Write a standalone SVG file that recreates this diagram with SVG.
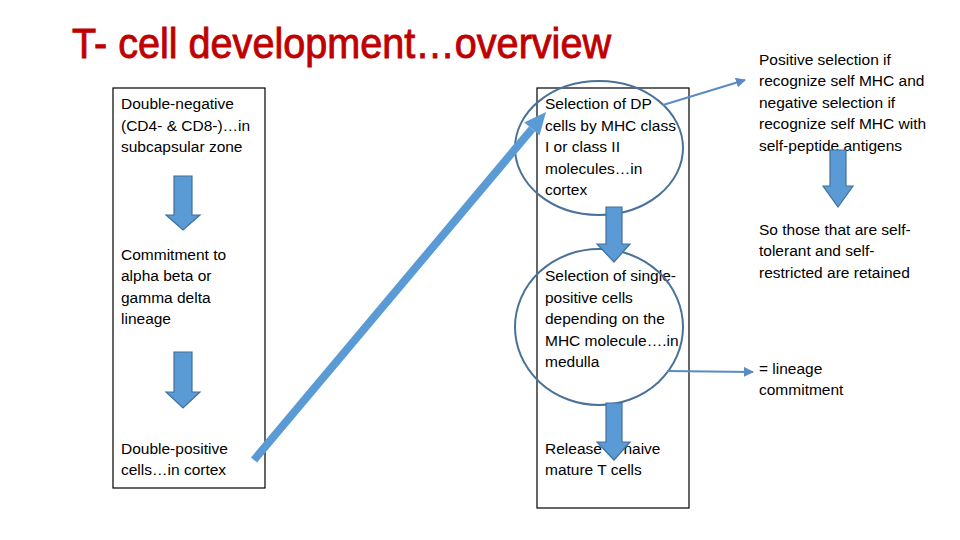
<svg xmlns="http://www.w3.org/2000/svg" width="960" height="540" viewBox="0 0 960 540">
<defs>
<style>
.t{font-family:"Liberation Sans",Arial,sans-serif;font-size:15.5px;fill:#000}
.title{font-family:"Liberation Sans",Arial,sans-serif;font-size:42px;fill:#c00000;stroke:#c00000;stroke-width:0.9}
.box{fill:none;stroke:#000;stroke-width:1.2}
.blk{fill:#5b9bd5;stroke:#41719c;stroke-width:1.2}
.ell{fill:none;stroke:#4a7298;stroke-width:2}
.thin{fill:none;stroke:#5a8ac6;stroke-width:2}
</style>
<marker id="ah" viewBox="0 0 10 10" refX="9" refY="5" markerWidth="5" markerHeight="5" orient="auto" markerUnits="strokeWidth">
<path d="M0,0 L10,5 L0,10 Z" fill="#5a8ac6"/>
</marker>
</defs>
<rect width="960" height="540" fill="#fff"/>
<text class="title" x="72" y="58" textLength="539" lengthAdjust="spacingAndGlyphs">T- cell development…overview</text>

<g id="left-column">
<rect class="box" x="113" y="88" width="152" height="400"/>
</g>
<g id="middle-column">
<rect class="box" x="537" y="88" width="152" height="420"/>
</g>

<g id="node-double-negative">
<text class="t" x="121" y="109">Double-negative</text>
<text class="t" x="121" y="130.5">(CD4- &amp; CD8-)…in</text>
<text class="t" x="121" y="152">subcapsular zone</text>
</g>
<g id="node-commitment">
<text class="t" x="121" y="259.5">Commitment to</text>
<text class="t" x="121" y="281">alpha beta or</text>
<text class="t" x="121" y="302.5">gamma delta</text>
<text class="t" x="121" y="324">lineage</text>
</g>
<g id="node-double-positive">
<text class="t" x="121" y="453.5">Double-positive</text>
<text class="t" x="121" y="475">cells…in cortex</text>
</g>
<g id="node-selection-dp">
<text class="t" x="545" y="109">Selection of DP</text>
<text class="t" x="545" y="130.5">cells by MHC class</text>
<text class="t" x="545" y="152">I or class II</text>
<text class="t" x="545" y="173.5">molecules…in</text>
<text class="t" x="545" y="195">cortex</text>
<ellipse class="ell" cx="599" cy="148" rx="84" ry="67"/>
</g>
<g id="node-selection-sp">
<text class="t" x="545" y="281">Selection of single-</text>
<text class="t" x="545" y="302.5">positive cells</text>
<text class="t" x="545" y="324">depending on the</text>
<text class="t" x="545" y="345.5">MHC molecule….in</text>
<text class="t" x="545" y="367">medulla</text>
<ellipse class="ell" cx="599" cy="327" rx="84" ry="78"/>
</g>
<g id="node-release">
<text class="t" x="545" y="453.5">Release of naive</text>
<text class="t" x="545" y="475">mature T cells</text>
</g>
<g id="node-positive-negative">
<text class="t" x="759" y="64.5">Positive selection if</text>
<text class="t" x="759" y="86">recognize self MHC and</text>
<text class="t" x="759" y="107.5">negative selection if</text>
<text class="t" x="759" y="129">recognize self MHC with</text>
<text class="t" x="759" y="150.5">self-peptide antigens</text>
</g>
<g id="node-retained">
<text class="t" x="759" y="234.5">So those that are self-</text>
<text class="t" x="759" y="256">tolerant and self-</text>
<text class="t" x="759" y="277.5">restricted are retained</text>
</g>
<g id="node-lineage">
<text class="t" x="759" y="373.5">= lineage</text>
<text class="t" x="759" y="395">commitment</text>
</g>

<g id="connectors">
<path class="blk" d="M174,176 H192 V215 H200 L183,230 L166,215 H174 Z"/>
<path class="blk" d="M174,352 H192 V392 H200 L183,408 L166,392 H174 Z"/>
<path class="blk" d="M606,207 H622 V244 H630 L614,262 L597,244 H606 Z"/>
<path class="blk" d="M606,403 H622 V442 H630 L614,460 L597,442 H606 Z"/>
<path class="blk" d="M830,150 H846 V186 H853 L838,207 L823,186 H830 Z"/>
<line x1="254" y1="460" x2="532" y2="129" stroke="#5b9bd5" stroke-width="8"/>
<polygon points="546,112 539.6,135.3 524.2,122.5" fill="#5b9bd5"/>
<line class="thin" x1="663" y1="105" x2="745" y2="80" marker-end="url(#ah)"/>
<line class="thin" x1="667" y1="371" x2="753" y2="372" marker-end="url(#ah)"/>
</g>
</svg>
